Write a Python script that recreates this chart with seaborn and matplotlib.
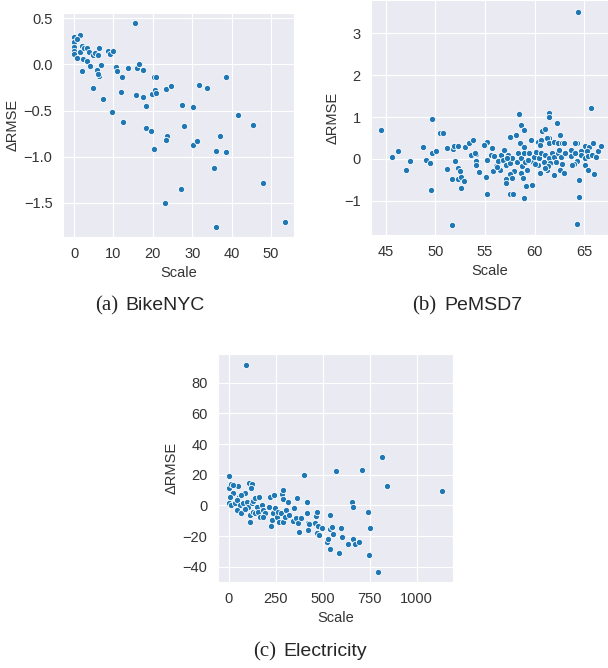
import numpy as np
import pandas as pd
import matplotlib
matplotlib.use("Agg")
import matplotlib.pyplot as plt
import seaborn as sns

# ----------------------------------------------------------
# Data
# ----------------------------------------------------------
bike_scale = [15.5, 0.0, 1.6, 0.0, 0.7, 0.0, 0.0, 0.0, 1.4, 2.0, 2.5, 3.4, 3.9,
              4.7, 5.2, 6.4, 6.0, 0.8, 2.4, 3.4, 8.5, 9.2, 9.8, 2.0, 4.1, 5.8,
              6.9, 6.3, 6.2, 4.9, 7.4, 10.7, 11.0, 12.1, 11.9, 9.7, 12.5, 13.6,
              15.9, 16.4, 17.4, 15.7, 17.5, 18.2, 18.2, 19.4, 20.2, 20.4, 20.7,
              19.9, 20.5, 20.9, 23.3, 24.7, 23.6, 23.3, 23.1, 27.1, 27.5, 27.8,
              30.2, 30.2, 31.3, 31.6, 33.7, 35.4, 36.0, 36.0, 37.1, 38.5, 38.6,
              41.5, 45.4, 47.9, 53.4]
bike_drmse = [0.45, 0.30, 0.32, 0.24, 0.27, 0.19, 0.15, 0.11, 0.13, 0.20, 0.18,
              0.18, 0.13, 0.10, 0.12, 0.18, 0.10, 0.07, 0.06, 0.04, 0.14, 0.11,
              0.14, -0.07, -0.02, -0.06, -0.01, -0.13, -0.10, -0.26, -0.38,
              -0.03, -0.07, -0.14, -0.30, -0.52, -0.62, -0.04, -0.04, 0.00,
              -0.06, -0.33, -0.35, -0.45, -0.69, -0.72, -0.92, -0.14, -0.14,
              -0.32, -0.28, -0.31, -0.27, -0.23, -0.78, -0.82, -1.50, -1.35,
              -0.44, -0.67, -0.46, -0.87, -0.83, -0.22, -0.26, -1.12, -0.94,
              -1.76, -0.78, -0.14, -0.95, -0.55, -0.66, -1.28, -1.71]

pems_scale = [44.5, 45.6, 46.2, 47.0, 47.4, 48.7, 49.0, 49.5, 49.7, 49.7, 50.1,
              49.6, 50.5, 50.8, 51.2, 51.2, 51.7, 51.7, 51.8, 51.9, 52.0, 52.3,
              52.3, 52.3, 52.5, 52.6, 52.6, 52.9, 53.0, 53.4, 53.6, 53.8, 54.1,
              54.1, 54.1, 54.4, 55.0, 55.2, 55.1, 55.2, 55.2, 55.6, 55.7, 55.8,
              58.4, 61.4, 61.4, 65.7, 58.6, 58.9, 62.3, 60.7, 61.0, 58.15, 57.6,
              59.6, 62.6, 61.4, 60.7,
              54.9, 57.0, 57.5, 58.1, 58.5, 58.9, 60.3, 60.6, 60.5, 61.2, 61.5,
              62.0, 62.4, 62.8, 63.0, 63.7, 64.3, 65.1, 65.5, 65.9, 64.7, 65.3,
              66.4, 66.7,
              54.0, 56.1, 56.3, 56.5, 56.6, 56.8, 56.9, 57.1, 57.3, 57.5, 57.7,
              57.9, 58.2, 58.3, 58.6, 58.7, 58.9, 59.0, 59.2, 59.45, 59.8, 59.9,
              60.1, 60.3, 60.4, 60.6, 60.9, 61.0, 61.2, 61.5, 61.6, 61.8, 62.0,
              62.2, 62.4, 62.7, 62.8, 63.1, 63.7, 64.1, 64.3, 64.7, 65.1, 65.4,
              65.8, 66.2, 55.9, 56.2, 57.2, 59.3, 60.0, 61.3, 62.5,
              55.1, 57.1, 57.1, 57.5, 57.7, 57.5, 57.8, 58.6, 58.8, 58.97, 59.1,
              59.7, 60.5, 61.0, 62.0, 62.6, 63.0, 64.0, 64.5, 64.5, 65.1, 65.4,
              66.0, 64.3, 64.4, 64.1, 63.8]
pems_drmse = [0.68, 0.05, 0.19, -0.26, -0.05, 0.29, -0.02, -0.11, 0.95, 0.14,
              0.18, -0.75, 0.61, 0.63, 0.26, -0.23, -0.48, -1.57, 0.23, 0.32,
              -0.06, 0.30, -0.21, -0.49, -0.30, -0.44, -0.69, -0.53, 0.29, 0.39,
              0.09, 0.46, 0.12, -0.06, -0.14, -0.31, 0.33, 0.41, -0.43, -0.84,
              -0.02, 0.09, 0.25, -0.30,
              1.07, 1.09, 1.01, 1.22, 0.81, 0.69, 0.87, 0.67, 0.71, 0.57, 0.53,
              0.45, 0.57, 0.51, 0.46,
              0.33, 0.22, 0.53, 0.57, 0.37, 0.29, 0.40, 0.45, 0.33, 0.51, 0.37,
              0.41, 0.37, 0.38, 0.37, 0.21, 0.39, 0.30, 0.29, 0.37, 0.19, 0.19,
              0.19, 0.31,
              0.13, -0.18, -0.05, -0.26, 0.09, -0.03, 0.22, -0.15, 0.09, -0.11,
              0.01, -0.30, -0.07, 0.14, 0.01, -0.18, 0.13, -0.07, -0.27, 0.14,
              -0.07, 0.05, 0.17, -0.15, 0.01, 0.13, -0.07, 0.09, -0.27, 0.01,
              -0.11, 0.13, 0.05, -0.07, 0.14, 0.05, -0.13, 0.13, 0.07, 0.14,
              -0.05, 0.09, 0.01, 0.06, 0.09, 0.05, 0.07, -0.20, 0.03, -0.02,
              -0.12, -0.17, 0.21,
              -0.43, -0.47, -0.58, -0.37, -0.45, -0.85, -0.85, -0.34, -0.45,
              -0.93, -0.66, -0.62, -0.34, -0.21, -0.39, -0.27, -0.34, -0.13,
              -0.51, -0.90, -0.15, -0.26, -0.37, -1.55, 3.52, 0.39, -0.14]

elec_scale = [89, 2, 2, 12, 20, 50, 5, 0, 9, 32, 23, 85, 108, 121, 117, 115, 55,
              67, 44, 59, 76, 94, 103, 121, 130, 139, 147, 41, 67, 85, 112, 130,
              139, 162, 156, 165, 174, 183, 192, 183, 215, 218, 240, 224, 227,
              236, 245, 254, 263, 268, 277, 282, 286, 290, 290, 298, 304, 316,
              321, 346, 343, 357, 361, 369, 382, 375, 400, 414, 414, 423, 428,
              421, 458, 464, 471, 467, 481, 476, 494, 524, 530, 536, 538, 547,
              540, 556, 572, 584, 597, 604, 636, 654, 659, 663, 670, 690, 709,
              741, 746, 751, 792, 815, 840, 1137]
elec_drmse = [91.7, 19.1, 11.3, 13.9, 8.3, 12.6, 5.7, 1.7, 0.0, 1.3, 13.0, 7.8,
              14.3, 13.9, 11.1, -11.1, 5.7, 6.7, 3.5, 0.2, 1.3, 2.4, -0.9, 1.3,
              3.0, 4.6, -0.9, -3.0, -4.8, -2.6, -6.3, -4.1, -5.2, 5.2, -4.1,
              -7.4, 0.2, -3.0, -4.8, -7.4, -1.3, 5.7, 6.7, -13.5, -9.6, -5.2,
              -2.0, -7.4, -4.1, -10.7, -5.2, 7.2, 9.8, 3.9, -10.7, -7.4, -3.0,
              2.4, -6.3, -2.0, -10.0, -8.5, 4.6, -11.3, -8.5, -17.6, 19.8, 2.4,
              -5.2, -11.3, -12.4, -16.1, -11.3, -6.7, -4.1, -18.3, -19.3, -13.5,
              -15.0, -24.1, -21.7, -6.3, -15.2, -13.9, -28.7, -18.7, 22.2,
              -31.3, -14.6, -20.7, -25.0, 2.2, -1.3, -22.0, -25.0, -23.7, 22.8,
              -4.1, -32.6, -14.8, -43.7, 31.3, 12.6, 9.1]

# ----------------------------------------------------------
# Figure
# ----------------------------------------------------------
sns.set_style("darkgrid")
plt.rcParams["font.family"] = ["Liberation Sans", "DejaVu Sans"]

fig = plt.figure(figsize=(6.08, 6.68), dpi=100)
W, H = 608, 668


def add_ax(left, top, right, bottom):
    return fig.add_axes([left / W, 1 - bottom / H, (right - left) / W, (bottom - top) / H])


panels = [
    (add_ax(63, 13, 294, 237), bike_scale, bike_drmse,
     (-2.8, 55.8), (-1.87, 0.557), [0, 10, 20, 30, 40, 50], [-1.5, -1.0, -0.5, 0.0, 0.5]),
    (add_ax(371, 0, 608, 235), pems_scale, pems_drmse,
     (43.5, 67.4), (-1.82, 3.8), [45, 50, 55, 60, 65], [-1, 0, 1, 2, 3]),
    (add_ax(218, 354, 453, 582), elec_scale, elec_drmse,
     (-58, 1193), (-50, 98.7), [0, 250, 500, 750, 1000], [-40, -20, 0, 20, 40, 60, 80]),
]

for ax, xs, ys, xl, yl, xt, yt in panels:
    df = pd.DataFrame({"Scale": xs, "dRMSE": ys})
    sns.scatterplot(data=df, x="Scale", y="dRMSE", ax=ax,
                    color="#1f77b4", s=20, edgecolor="white", linewidth=0.6)
    ax.set_xlim(*xl)
    ax.set_ylim(*yl)
    ax.set_xticks(xt)
    ax.set_yticks(yt)
    ax.set_xlabel("Scale", fontsize=10.5, color="#333333", labelpad=3)
    ax.set_ylabel("ΔRMSE", fontsize=10.5, color="#333333", labelpad=3)
    ax.tick_params(labelsize=10.5, labelcolor="#333333", pad=4)

# Captions: serif letter + sans dataset name
captions = [(118, 125, 306, "(a)", "BikeNYC"),
            (436, 444, 306, "(b)", "PeMSD7"),
            (276, 283, 652, "(c)", "Electricity")]
for xr, xl, y, tag, name in captions:
    fig.text(xr / W, 1 - y / H, tag, ha="right", va="center", fontsize=15,
             family="Liberation Serif")
    fig.text(xl / W, 1 - y / H, name, ha="left", va="center", fontsize=14,
             family="Liberation Sans")

fig.savefig("out.png", dpi=100)
